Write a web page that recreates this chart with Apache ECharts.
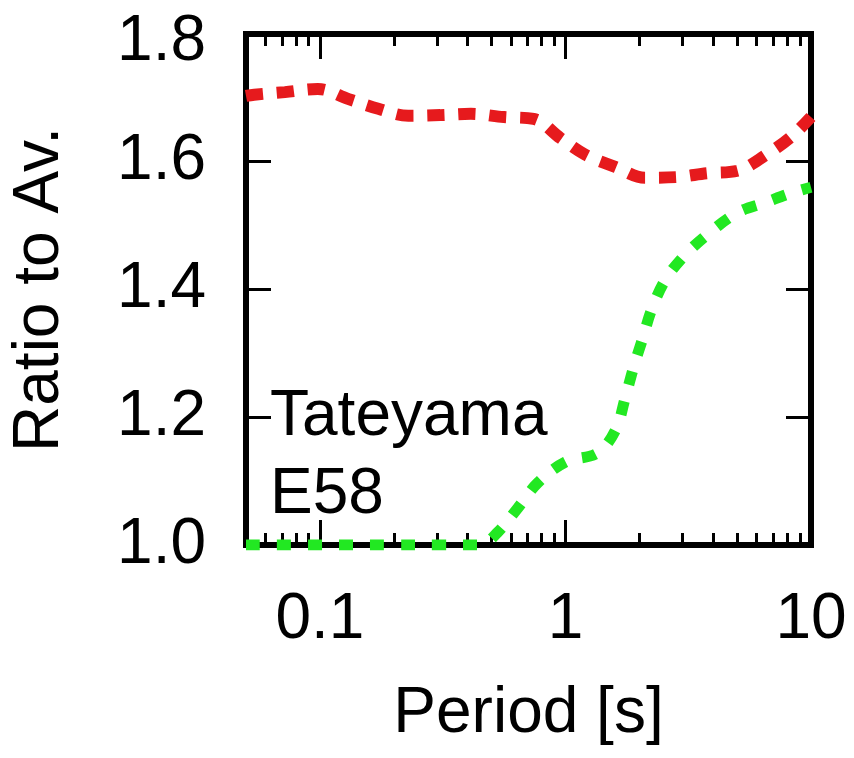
<!DOCTYPE html>
<html><head><meta charset="utf-8">
<script src="https://cdn.jsdelivr.net/npm/echarts@6/dist/echarts.min.js"></script>
<style>html,body{margin:0;padding:0;background:#fff}#c{width:854px;height:758px}</style>
</head><body><div id="c"></div>
<script>
// ---- data ----
const redPeriods = [0.05, 0.054, 0.072, 0.098, 0.131, 0.173, 0.229, 0.309, 0.412, 0.561, 0.742, 0.954, 1.205, 1.594, 2.108, 2.84, 3.76, 5.02, 6.57, 8.30, 10];
const redRatios  = [1.703, 1.705, 1.709, 1.714, 1.698, 1.683, 1.672, 1.673, 1.675, 1.670, 1.667, 1.637, 1.611, 1.592, 1.575, 1.576, 1.582, 1.586, 1.611, 1.639, 1.670];
const greenPeriods = [0.05, 0.1, 0.2, 0.3, 0.45, 0.53, 0.64, 0.77, 1.0, 1.35, 1.6, 1.75, 1.9, 2.05, 2.25, 2.55, 3.0, 3.7, 5.0, 6.5, 8.3, 10];
const greenRatios  = [1.0, 1.0, 1.0, 1.0, 1.0, 1.02, 1.058, 1.097, 1.13, 1.144, 1.18, 1.23, 1.28, 1.32, 1.37, 1.415, 1.45, 1.483, 1.52, 1.536, 1.551, 1.56];
const xMajorTicks = [0.1, 1, 10];
const xMinorTicks = [0.06, 0.07, 0.08, 0.09, 0.2, 0.3, 0.4, 0.5, 0.6, 0.7, 0.8, 0.9, 2, 3, 4, 5, 6, 7, 8, 9];
const yTicks = [1.2, 1.4, 1.6];
const xName = 'Period [s]';
const yName = 'Ratio to Av.';
const annotation = ['Tateyama', 'E58'];

const FONT = 'Liberation Sans, Arial, Helvetica, sans-serif';
const FS = 64;
const tickStyle = {color: '#000', width: 3};

function xAxisDef(pos, ticks, len, labels) {
  return {
    type: 'log', logBase: 10, min: 0.05, max: 10, position: pos, gridIndex: 0,
    axisLine: {show: false},
    splitLine: {show: false},
    axisTick: {show: true, inside: true, length: len, customValues: ticks, lineStyle: tickStyle},
    axisLabel: labels ? {show: true, customValues: xMajorTicks, fontFamily: FONT, fontSize: FS, color: '#000', margin: 43,
      formatter: v => String(v)} : {show: false},
    name: labels ? xName : '',
    nameLocation: 'middle', nameGap: 137,
    nameTextStyle: {fontFamily: FONT, fontSize: FS, color: '#000'}
  };
}
function yAxisDef(pos, labels) {
  return {
    type: 'value', min: 1.0, max: 1.8, interval: 0.2, position: pos, gridIndex: 0,
    axisLine: {show: false},
    splitLine: {show: false},
    axisTick: {show: true, inside: true, length: 25, customValues: yTicks, lineStyle: tickStyle},
    axisLabel: labels ? {show: true, fontFamily: FONT, fontSize: FS, color: '#000', margin: 40,
      formatter: v => v >= 1.79 ? '{top|1.8}' : v.toFixed(1),
      rich: {top: {fontFamily: FONT, fontSize: FS, color: '#000', padding: [16, 0, 0, 0]}}} : {show: false},
    name: labels ? yName : '',
    nameLocation: 'middle', nameGap: 174, nameRotate: 90,
    nameTextStyle: {fontFamily: FONT, fontSize: FS, color: '#000'}
  };
}

const chart = echarts.init(document.getElementById('c'), null, {renderer: 'canvas'});
chart.setOption({
  animation: false,
  backgroundColor: '#fff',
  grid: {left: 245, right: 43, top: 34, bottom: 213, show: true, borderWidth: 6, borderColor: '#000', containLabel: false},
  xAxis: [
    xAxisDef('bottom', xMajorTicks, 25, true),
    xAxisDef('bottom', xMinorTicks, 12, false),
    xAxisDef('top', xMajorTicks, 25, false),
    xAxisDef('top', xMinorTicks, 12, false)
  ],
  yAxis: [yAxisDef('left', true), yAxisDef('right', false)],
  graphic: [{
    type: 'text', left: 270, top: 378, z: 100,
    style: {text: annotation.join('\n'), font: FS + 'px ' + FONT, fill: '#000', lineHeight: 78}
  }],
  series: [
    {type: 'line', xAxisIndex: 0, yAxisIndex: 0, smooth: 0.35, showSymbol: false, z: 3,
     data: redPeriods.map((p, i) => [p, redRatios[i]]),
     lineStyle: {color: '#e61a1d', width: 12, type: [17, 14]}},
    {type: 'line', xAxisIndex: 0, yAxisIndex: 0, smooth: 0.35, showSymbol: false, z: 2,
     data: greenPeriods.map((p, i) => [p, greenRatios[i]]),
     lineStyle: {color: '#22e822', width: 11, type: [14, 17]}}
  ]
});
</script></body></html>
